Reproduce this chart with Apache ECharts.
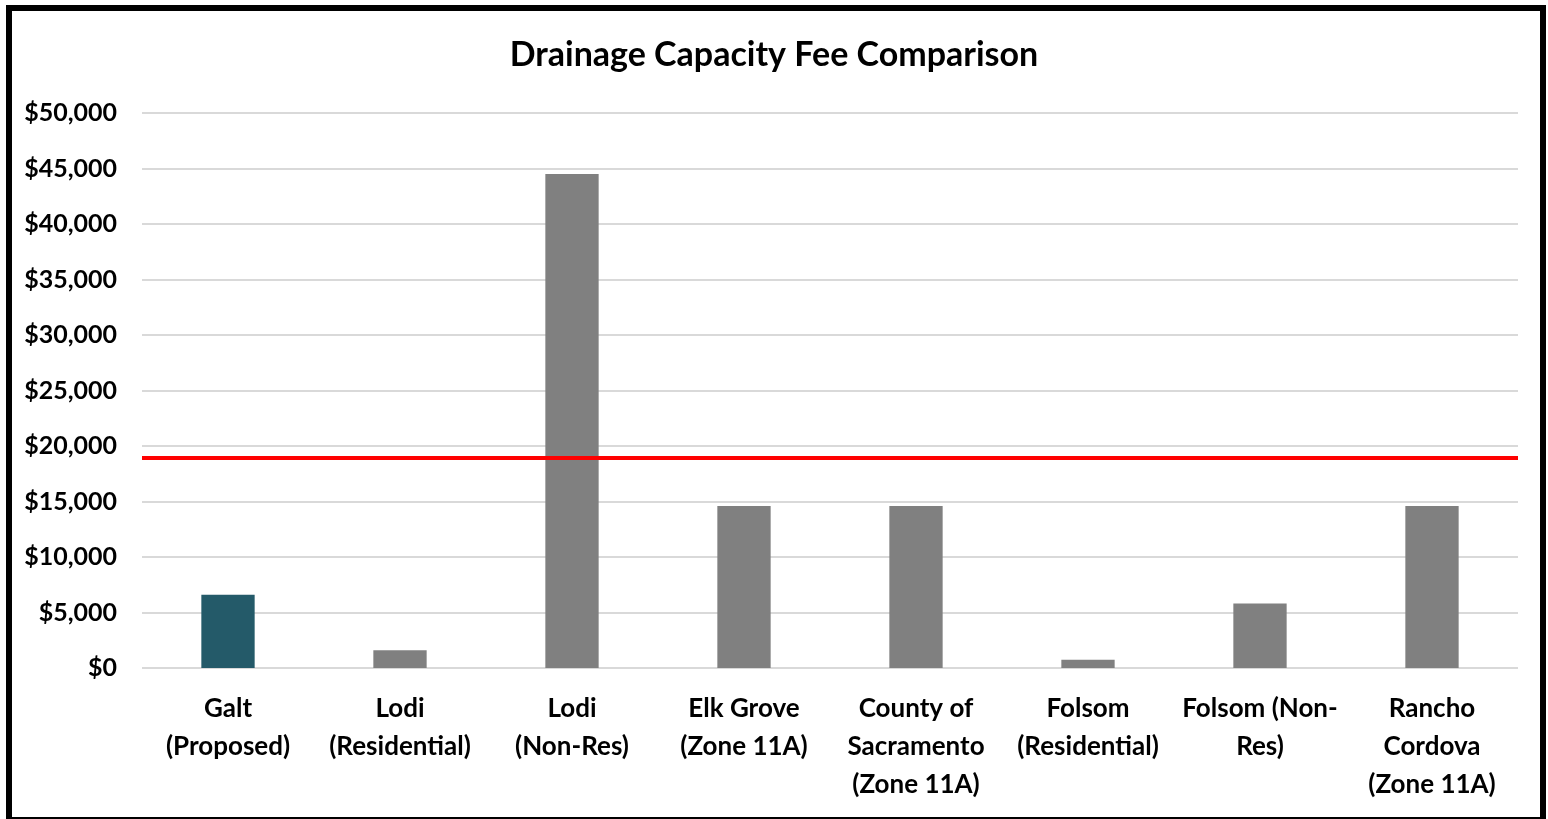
<!DOCTYPE html>
<html lang="en">
<head>
<meta charset="utf-8">
<title>Drainage Capacity Fee Comparison</title>
<style>
  html, body { margin: 0; padding: 0; background: #fff; }
  #wrap { position: relative; width: 1548px; height: 819px; overflow: hidden; }
  #echarts { width: 1548px; height: 819px; }
  .frame { position: absolute; left: 6px; top: 5px; width: 1540px; height: 818px; box-sizing: border-box; border: 6px solid #000; pointer-events: none; }
</style>
</head>
<body>
<div id="wrap">
  <div id="echarts"></div>
  <div class="frame"></div>
</div>
<script src="https://cdn.jsdelivr.net/npm/echarts@6/dist/echarts.min.js"></script>
<script type="text/javascript">
var categories = ['Galt\n(Proposed)', 'Lodi\n(Residential)', 'Lodi\n(Non-Res)', 'Elk Grove\n(Zone 11A)',
  'County of\nSacramento\n(Zone 11A)', 'Folsom\n(Residential)', 'Folsom (Non-\nRes)', 'Rancho\nCordova\n(Zone 11A)'];
var fees = [6600, 1600, 44500, 14600, 14600, 750, 5800, 14600];
var proposedLine = 18900;

var myChart = echarts.init(document.getElementById('echarts'));
var font = 'Lato, "Open Sans", sans-serif';

myChart.setOption({
  animation: false,
  title: {
    text: 'Drainage Capacity Fee Comparison',
    left: 'center',
    top: 33,
    textStyle: { fontFamily: font, fontWeight: 'bold', fontSize: 34, color: '#000' }
  },
  grid: { left: 142, right: 30, top: 113, bottom: 151 },
  xAxis: {
    type: 'category',
    data: categories,
    axisLine: { show: false },
    axisTick: { show: false },
    axisLabel: {
      interval: 0, margin: 22, color: '#000',
      fontFamily: font, fontWeight: 'bold', fontSize: 26, lineHeight: 38
    }
  },
  yAxis: {
    type: 'value',
    min: 0, max: 50000, interval: 5000,
    axisLine: { show: false },
    axisTick: { show: false },
    splitLine: { lineStyle: { color: '#d9d9d9', width: 2 } },
    axisLabel: {
      margin: 25, color: '#000',
      fontFamily: font, fontWeight: 'bold', fontSize: 25,
      formatter: function (v) { return '$' + v.toLocaleString('en-US'); }
    }
  },
  series: [{
    type: 'bar',
    barWidth: '31%',
    data: fees.map(function (v, i) {
      return { value: v, itemStyle: { color: i === 0 ? '#245a69' : '#808080' } };
    }),
    markLine: {
      silent: true,
      symbol: 'none',
      label: { show: false },
      lineStyle: { color: '#ff0000', width: 4, type: 'solid' },
      data: [{ yAxis: proposedLine }]
    }
  }]
});
</script>
</body>
</html>
